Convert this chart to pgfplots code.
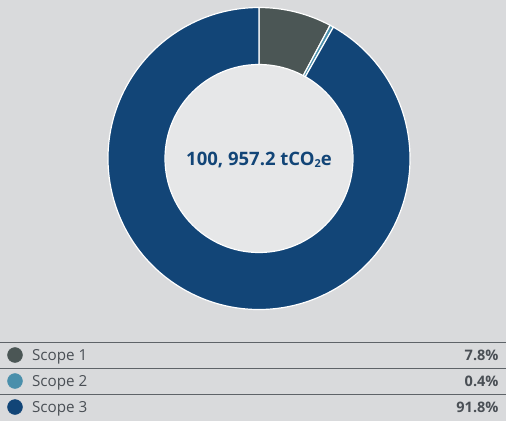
\documentclass[border=0pt]{standalone}
\usepackage{pgfplots}
\pgfplotsset{compat=1.18}
\usepackage{pgfplotstable}
\usepackage{fontspec}
\setmainfont{Open Sans}
\definecolor{bg}{HTML}{D9DADC}
\definecolor{innerc}{HTML}{E6E7E8}
\definecolor{sone}{HTML}{4B5655}
\definecolor{stwo}{HTML}{4A8FAB}
\definecolor{sthree}{HTML}{124577}
\definecolor{txt}{HTML}{4A4F55}
\definecolor{rulec}{HTML}{5E6368}
\pgfplotstableread{
name value
1 7.8
2 0.4
3 91.8
}\scopes
\pgfplotstablegetelem{0}{value}\of\scopes \let\va\pgfplotsretval
\pgfplotstablegetelem{1}{value}\of\scopes \let\vb\pgfplotsretval
\pgfplotstablegetelem{2}{value}\of\scopes \let\vc\pgfplotsretval
\pgfmathsetmacro{\cx}{259}\pgfmathsetmacro{\cy}{262.5}
\pgfmathsetmacro{\Rout}{151}\pgfmathsetmacro{\Rin}{94}
\pgfmathsetmacro{\aA}{90}
\pgfmathsetmacro{\aB}{90-3.6*\va}
\pgfmathsetmacro{\aC}{\aB-3.6*\vb}
\pgfmathsetmacro{\aD}{\aC-3.6*\vc}
\tikzset{seg/.style={draw=white,line width=1.2pt,line join=miter}}
\begin{document}%
\begin{tikzpicture}
\begin{axis}[width=506pt,height=421pt,scale only axis,
  xmin=0,xmax=506,ymin=0,ymax=421,hide axis,clip=false]
\fill[bg] (axis cs:0,0) rectangle (axis cs:506,421);
\coordinate (bl) at (axis cs:0,0);
\coordinate (tr) at (axis cs:506,421);
\fill[innerc] (axis cs:\cx,\cy) circle[radius=\Rin];
\filldraw[seg,fill=sone]
    (axis cs:{\cx+\Rout*cos(\aA)},{\cy+\Rout*sin(\aA)}) arc[start angle=\aA,end angle=\aB,radius=\Rout]
    -- (axis cs:{\cx+\Rin*cos(\aB)},{\cy+\Rin*sin(\aB)}) arc[start angle=\aB,end angle=\aA,radius=\Rin] -- cycle;
\filldraw[seg,fill=stwo]
    (axis cs:{\cx+\Rout*cos(\aB)},{\cy+\Rout*sin(\aB)}) arc[start angle=\aB,end angle=\aC,radius=\Rout]
    -- (axis cs:{\cx+\Rin*cos(\aC)},{\cy+\Rin*sin(\aC)}) arc[start angle=\aC,end angle=\aB,radius=\Rin] -- cycle;
\filldraw[seg,fill=sthree]
    (axis cs:{\cx+\Rout*cos(\aC)},{\cy+\Rout*sin(\aC)}) arc[start angle=\aC,end angle=\aD,radius=\Rout]
    -- (axis cs:{\cx+\Rin*cos(\aD)},{\cy+\Rin*sin(\aD)}) arc[start angle=\aD,end angle=\aC,radius=\Rin] -- cycle;
\node[anchor=base,text=sthree,font=\bfseries\fontsize{18.5}{22}\selectfont] at (axis cs:259,255)
  {100, 957.2 tCO\raisebox{-0.1em}{\fontsize{11}{13}\selectfont 2}e};
\draw[rulec,line width=1pt] (axis cs:0,79) -- (axis cs:506,79);
\draw[rulec,line width=1pt] (axis cs:0,53) -- (axis cs:506,53);
\draw[rulec,line width=1pt] (axis cs:0,27) -- (axis cs:506,27);
\addplot[only marks,mark=*,mark size=7.5pt,color=sone] coordinates {(15,66)};
\addplot[only marks,mark=*,mark size=7.5pt,color=stwo] coordinates {(15,40)};
\addplot[only marks,mark=*,mark size=7.5pt,color=sthree] coordinates {(15,14)};
\node[anchor=base west,text=txt,font=\fontsize{15.2}{18}\selectfont] at (axis cs:28.5,61) {Scope 1};
\node[anchor=base west,text=txt,font=\fontsize{15.2}{18}\selectfont] at (axis cs:28.5,35) {Scope 2};
\node[anchor=base west,text=txt,font=\fontsize{15.2}{18}\selectfont] at (axis cs:28.5,9) {Scope 3};
\node[anchor=base east,text=txt,font=\bfseries\fontsize{14.5}{17}\selectfont] at (axis cs:502,61) {\va\%};
\node[anchor=base east,text=txt,font=\bfseries\fontsize{14.5}{17}\selectfont] at (axis cs:502,35) {\vb\%};
\node[anchor=base east,text=txt,font=\bfseries\fontsize{14.5}{17}\selectfont] at (axis cs:502,9) {\vc\%};
\end{axis}
\pgfresetboundingbox
\useasboundingbox (bl) rectangle (tr);
\end{tikzpicture}%
\end{document}
